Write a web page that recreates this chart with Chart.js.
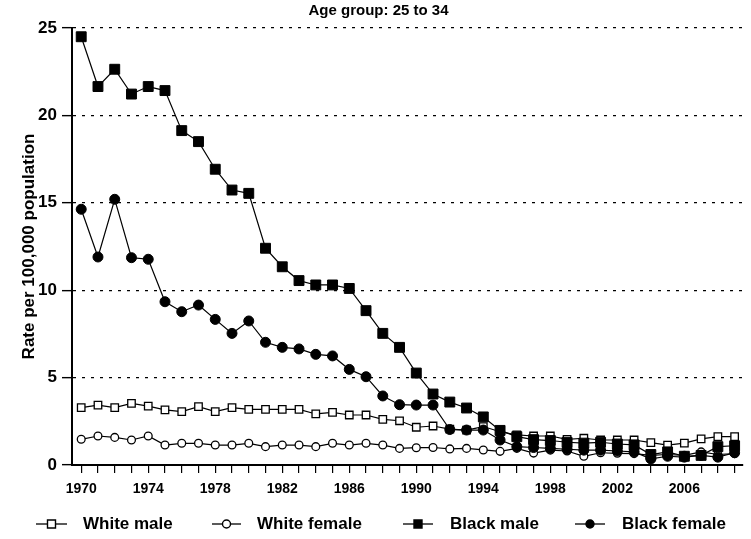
<!DOCTYPE html>
<html>
<head>
<meta charset="utf-8">
<script src="https://cdn.jsdelivr.net/npm/chart.js"></script>
<style>
  body { margin: 0; background: #fff; }
</style>
</head>
<body>
<canvas id="rateChart" width="751" height="539"></canvas>

<script>
// years on the x axis
const years = [1970, 1971, 1972, 1973, 1974, 1975, 1976, 1977, 1978, 1979,
               1980, 1981, 1982, 1983, 1984, 1985, 1986, 1987, 1988, 1989,
               1990, 1991, 1992, 1993, 1994, 1995, 1996, 1997, 1998, 1999,
               2000, 2001, 2002, 2003, 2004, 2005, 2006, 2007, 2008, 2009];

// rate per 100,000
const whiteMale = [3.28, 3.43, 3.28, 3.53, 3.37, 3.15, 3.05, 3.34, 3.05, 3.28,
                   3.18, 3.18, 3.18, 3.18, 2.92, 3.01, 2.86, 2.86, 2.61, 2.53,
                   2.16, 2.23, 2.05, 2.0, 2.2, 1.9, 1.72, 1.66, 1.66, 1.47,
                   1.53, 1.43, 1.43, 1.43, 1.28, 1.14, 1.25, 1.49, 1.62, 1.62];
const whiteFemale = [1.47, 1.66, 1.58, 1.43, 1.66, 1.14, 1.24, 1.24, 1.14, 1.14,
                     1.24, 1.05, 1.14, 1.14, 1.05, 1.24, 1.14, 1.24, 1.14, 0.95,
                     0.99, 1.0, 0.92, 0.95, 0.86, 0.78, 0.95, 0.68, 0.85, 0.8,
                     0.5, 0.7, 0.67, 0.65, 0.55, 0.6, 0.55, 0.75, 0.6, 0.65];
const blackMale = [24.5, 21.65, 22.64, 21.22, 21.65, 21.42, 19.13, 18.5, 16.92, 15.73,
                   15.54, 12.4, 11.34, 10.55, 10.3, 10.3, 10.1, 8.83, 7.53, 6.73,
                   5.26, 4.06, 3.6, 3.26, 2.75, 1.98, 1.62, 1.45, 1.4, 1.3,
                   1.25, 1.3, 1.2, 1.15, 0.6, 0.75, 0.5, 0.55, 1.05, 1.1];
const blackFemale = [14.63, 11.9, 15.2, 11.86, 11.77, 9.34, 8.77, 9.15, 8.33, 7.53,
                     8.24, 7.02, 6.73, 6.64, 6.33, 6.24, 5.47, 5.05, 3.95, 3.45,
                     3.43, 3.43, 2.03, 2.0, 2.0, 1.43, 1.05, 1.0, 0.95, 0.9,
                     0.85, 0.85, 0.8, 0.75, 0.35, 0.5, 0.45, 0.55, 0.45, 0.7];

const yTicks = [0, 5, 10, 15, 20, 25];
const xLabelYears = [1970, 1974, 1978, 1982, 1986, 1990, 1994, 1998, 2002, 2006];

const seriesNames = ['White male', 'White female', 'Black male', 'Black female'];

function pairs(vals) {
    return years.map((yr, i) => ({x: yr, y: vals[i]}));
}

// legend drawn under the axis, one entry per dataset
const legendPlugin = {
    id: 'bottomLegend',
    afterDraw(chart) {
        const ctx = chart.ctx;
        const spots = [[36, 67, 83], [212, 241, 257], [403, 433, 450], [575, 605, 622]];
        const y = 524;
        ctx.save();
        chart.data.datasets.forEach((ds, i) => {
            const s = spots[i];
            const cx = (s[0] + s[1]) / 2;
            ctx.strokeStyle = '#000';
            ctx.lineWidth = 1.3;
            ctx.beginPath();
            ctx.moveTo(s[0], y);
            ctx.lineTo(s[1], y);
            ctx.stroke();
            ctx.fillStyle = ds.pointBackgroundColor;
            ctx.lineWidth = 1.4;
            ctx.beginPath();
            if (ds.pointStyle === 'rect') {
                ctx.rect(cx - 4, y - 4, 8, 8);
            } else {
                ctx.arc(cx, y, 4, 0, Math.PI * 2);
            }
            ctx.fill();
            ctx.stroke();
            ctx.fillStyle = '#000';
            ctx.font = 'bold 17px "Liberation Sans", Arial, sans-serif';
            ctx.textBaseline = 'middle';
            ctx.textAlign = 'left';
            ctx.fillText(ds.label, s[2], y);
        });
        ctx.restore();
    }
};

const ctx = document.getElementById('rateChart').getContext('2d');

new Chart(ctx, {
    type: 'line',
    data: {
        datasets: [
            {
                label: seriesNames[0],
                data: pairs(whiteMale),
                borderColor: '#000',
                borderWidth: 1.2,
                pointStyle: 'rect',
                pointRadius: 5.3,
                pointBorderWidth: 1.3,
                pointBackgroundColor: '#fff',
                pointBorderColor: '#000',
                order: 3
            },
            {
                label: seriesNames[1],
                data: pairs(whiteFemale),
                borderColor: '#000',
                borderWidth: 1.2,
                pointStyle: 'circle',
                pointRadius: 3.9,
                pointBorderWidth: 1.3,
                pointBackgroundColor: '#fff',
                pointBorderColor: '#000',
                order: 2
            },
            {
                label: seriesNames[2],
                data: pairs(blackMale),
                borderColor: '#000',
                borderWidth: 1.2,
                pointStyle: 'rect',
                pointRadius: 7,
                pointBorderWidth: 1,
                pointBackgroundColor: '#000',
                pointBorderColor: '#000',
                order: 1
            },
            {
                label: seriesNames[3],
                data: pairs(blackFemale),
                borderColor: '#000',
                borderWidth: 1.2,
                pointStyle: 'circle',
                pointRadius: 5,
                pointBorderWidth: 1,
                pointBackgroundColor: '#000',
                pointBorderColor: '#000',
                order: 0
            }
        ]
    },
    options: {
        responsive: false,
        animation: false,
        layout: {padding: {left: 9, right: 3, top: 0, bottom: 0}},
        plugins: {
            legend: {display: false},
            tooltip: {enabled: false},
            title: {
                display: true,
                text: 'Age group: 25 to 34',
                color: '#000',
                font: {family: '"Liberation Sans", Arial, sans-serif', size: 15, weight: 'bold'},
                padding: {top: 2, bottom: 8}
            }
        },
        scales: {
            x: {
                type: 'linear',
                min: 1969.45,
                max: 2009.5,
                afterFit(scale) { scale.height = 74; },
                afterBuildTicks(scale) {
                    scale.ticks = years.map(v => ({value: v}));
                },
                ticks: {
                    stepSize: 1,
                    autoSkip: false,
                    maxRotation: 0,
                    includeBounds: false,
                    color: '#000',
                    padding: 8,
                    font: {family: '"Liberation Sans", Arial, sans-serif', size: 14, weight: 'bold'},
                    callback: (v) => xLabelYears.includes(v) ? String(v) : ''
                },
                grid: {
                    drawOnChartArea: false,
                    tickLength: 8,
                    color: '#000',
                    lineWidth: 1.2
                },
                border: {display: true, color: '#000', width: 2}
            },
            y: {
                min: 0,
                max: 25,
                afterFit(scale) { scale.width = 63; },
                afterBuildTicks(scale) {
                    scale.ticks = yTicks.map(v => ({value: v}));
                },
                ticks: {
                    stepSize: 5,
                    color: '#000',
                    padding: 5,
                    font: {family: '"Liberation Sans", Arial, sans-serif', size: 17, weight: 'bold'}
                },
                grid: {
                    color: (c) => c.tick && c.tick.value === 0 ? 'rgba(0,0,0,0)' : '#000',
                    tickColor: '#000',
                    lineWidth: 1.3,
                    tickWidth: 1.4,
                    tickLength: 10,
                    tickBorderDash: []
                },
                border: {display: true, color: '#000', width: 2, dash: [3, 6]},
                title: {
                    display: true,
                    text: 'Rate per 100,000 population',
                    color: '#000',
                    font: {family: '"Liberation Sans", Arial, sans-serif', size: 17, weight: 'bold'},
                    padding: {top: 10, bottom: 0}
                }
            }
        }
    },
    plugins: [legendPlugin]
});
</script>
</body>
</html>
